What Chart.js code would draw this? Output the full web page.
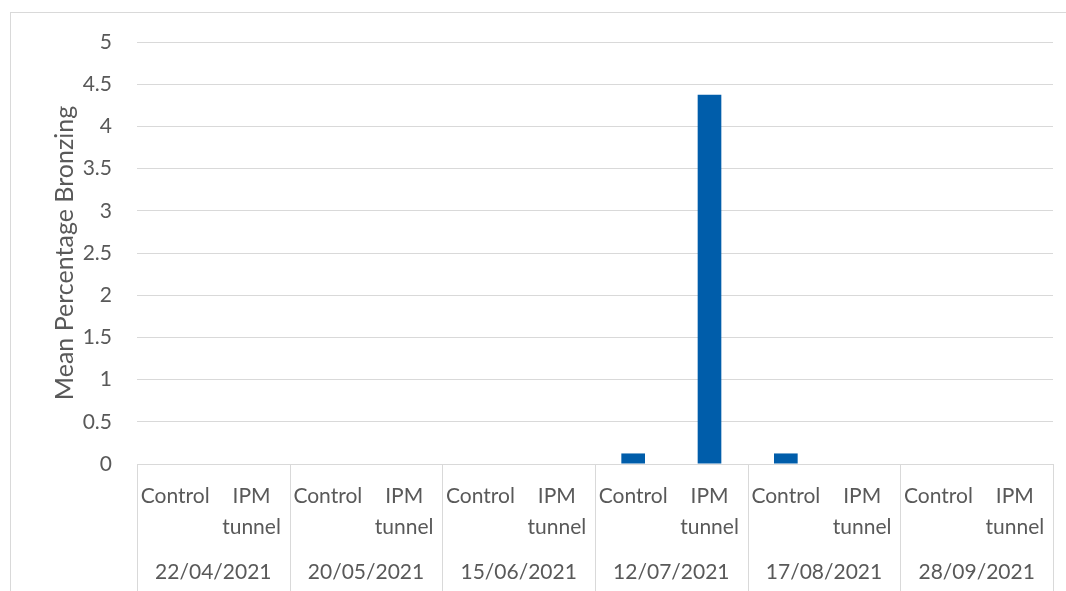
<!DOCTYPE html>
<html>
<head>
<meta charset="utf-8">
<script src="https://cdn.jsdelivr.net/npm/chart.js@4"></script>
<style>
    html, body { margin: 0; padding: 0; background: #fff; }
    #wrap { position: relative; width: 1066px; height: 591px; overflow: hidden; }
    #frame { position: absolute; left: 10px; top: 12px; width: 2000px; height: 2000px; border: 1px solid #d9d9d9; }
    canvas { position: absolute; left: 0; top: 0; }
</style>
</head>
<body>
<div id="wrap">
    <div id="frame"></div>
    <canvas id="bronzingChart" width="1066" height="591"></canvas>
</div>
<script>
// Sampling dates and treatments (two bars per date)
const dates = ['22/04/2021', '20/05/2021', '15/06/2021', '12/07/2021', '17/08/2021', '28/09/2021'];
const treatments = ['Control', ['IPM', 'tunnel']];

// Mean percentage bronzing, in the order date x treatment
const bronzing = [0, 0, 0, 0, 0, 0, 0.125, 4.375, 0.125, 0, 0, 0];

const yMin = 0;
const yMax = 5;
const yStep = 0.5;

const textColor = '#595959';
const gridColor = '#d9d9d9';
const fontFamily = 'Lato';

// Build the flat list of category labels
const labels = [];
dates.forEach(() => treatments.forEach(t => labels.push(t)));

// Draws the date row and the group separators under the x axis
const groupAxis = {
    id: 'groupAxis',
    afterDraw(chart) {
        const ctx = chart.ctx;
        const x = chart.scales.x;
        const area = chart.chartArea;
        const step = x.getPixelForValue(1) - x.getPixelForValue(0);
        const per = treatments.length;

        ctx.save();
        ctx.strokeStyle = gridColor;
        ctx.lineWidth = 1;
        for (let g = 0; g <= dates.length; g++) {
            const px = Math.round(x.getPixelForValue(g * per) - step / 2) + 0.5;
            ctx.beginPath();
            ctx.moveTo(px, area.bottom);
            ctx.lineTo(px, chart.height);
            ctx.stroke();
        }

        ctx.fillStyle = textColor;
        ctx.font = '21px ' + fontFamily;
        ctx.textAlign = 'center';
        ctx.textBaseline = 'middle';
        dates.forEach((d, g) => {
            const cx = x.getPixelForValue(g * per) + step * (per - 1) / 2;
            ctx.fillText(d, cx, 572);
        });
        ctx.restore();
    }
};

const ctx = document.getElementById('bronzingChart').getContext('2d');
const bronzingChart = new Chart(ctx, {
    type: 'bar',
    data: {
        labels: labels,
        datasets: [{
            label: 'Mean Percentage Bronzing',
            data: bronzing,
            backgroundColor: '#005DAA',
            borderWidth: 0,
            categoryPercentage: 1,
            barPercentage: 0.31,
        }],
    },
    options: {
        responsive: false,
        animation: false,
        layout: {
            padding: { left: 10, right: 13, top: 42, bottom: 0 },
        },
        plugins: {
            legend: { display: false },
            tooltip: { enabled: false },
        },
        scales: {
            x: {
                grid: { display: false },
                border: { display: true, color: gridColor, width: 1 },
                ticks: {
                    color: textColor,
                    padding: 8,
                    maxRotation: 0,
                    autoSkip: false,
                    font: { family: fontFamily, size: 21, lineHeight: 1.5 },
                },
                afterFit(scale) {
                    scale.height = 127;
                },
            },
            y: {
                min: yMin,
                max: yMax,
                grid: { color: gridColor, drawTicks: false },
                border: { display: false },
                ticks: {
                    stepSize: yStep,
                    color: textColor,
                    padding: 25,
                    font: { family: fontFamily, size: 21 },
                    callback: function (value) {
                        return String(value);
                    },
                },
                title: {
                    display: true,
                    text: 'Mean Percentage Bronzing',
                    color: textColor,
                    padding: { top: 40, bottom: 0 },
                    font: { family: fontFamily, size: 25, lineHeight: 1.2 },
                },
                afterFit(scale) {
                    scale.width = 127;
                },
            },
        },
    },
    plugins: [groupAxis],
});
</script>
</body>
</html>
